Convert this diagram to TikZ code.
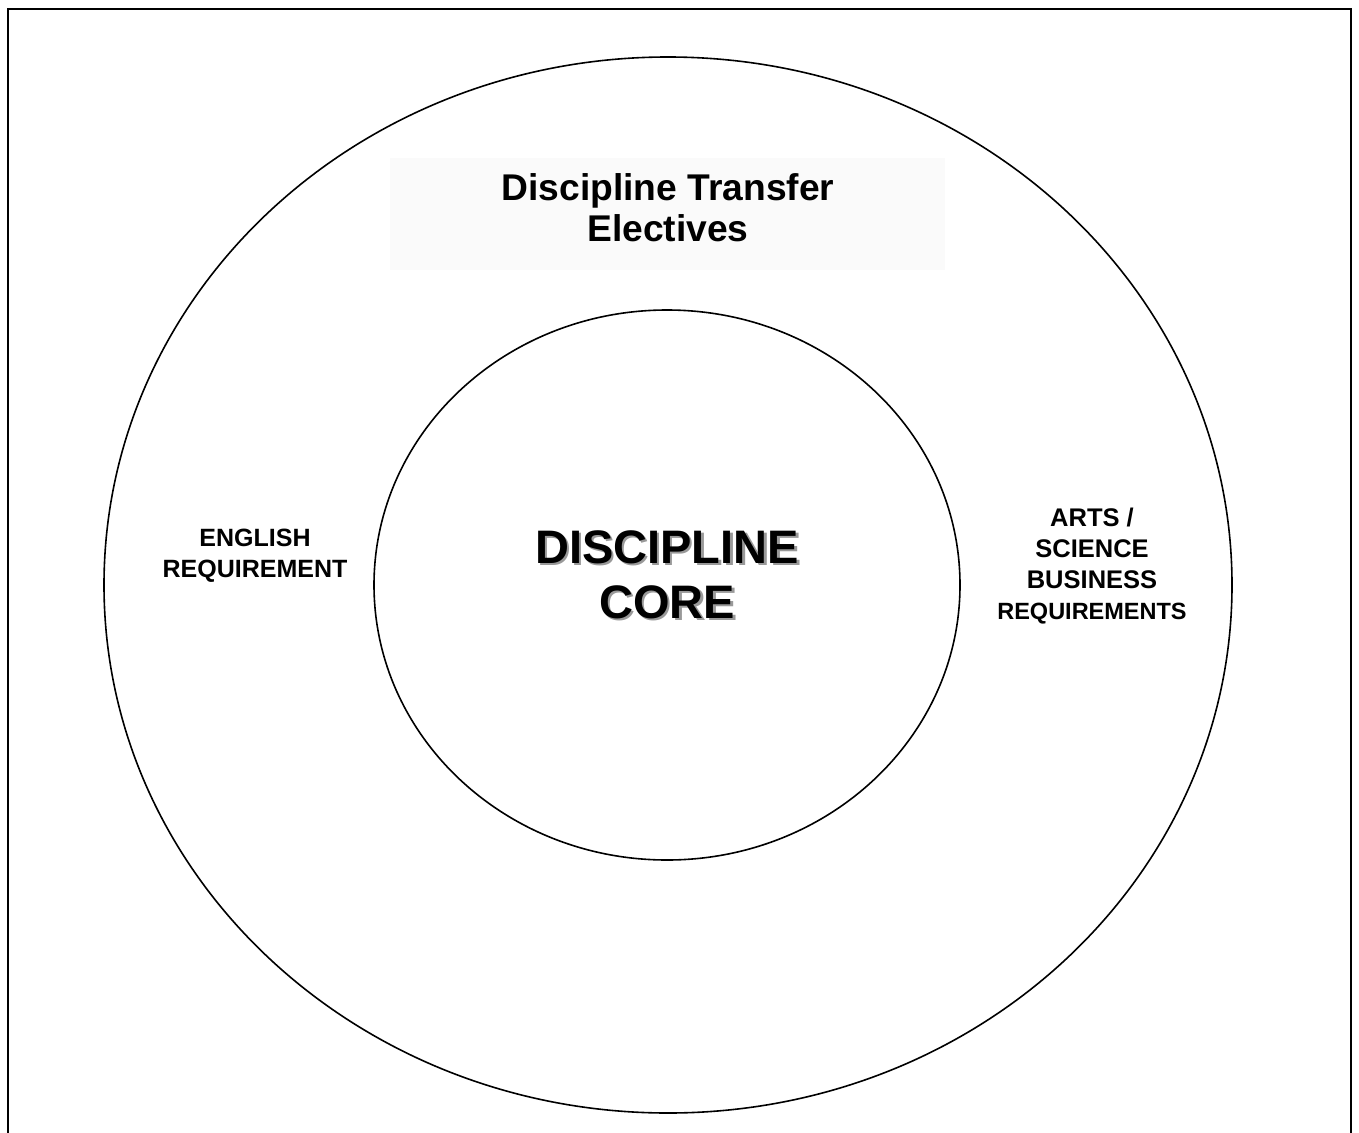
\documentclass[tikz,border=0pt]{standalone}
\usepackage{fontspec}
\setmainfont{Liberation Sans}
% text with a grey drop shadow, set as one box
\newcommand\dropshadowed[1]{\leavevmode\rlap{\kern2.5pt\raisebox{-2.5pt}{\textcolor{black!40}{#1}}}#1}
\begin{document}
\begin{tikzpicture}[x=1pt,y=-1pt,
  ring/.style={draw=black,line width=1.6pt},
  lbl/.style={align=center,inner sep=0pt,font=\bfseries},
  corelbl/.style={lbl,font=\bfseries\fontsize{47}{55}\selectfont}]
\useasboundingbox (0,0) rectangle (1359,1132);
% open frame (no bottom edge)
\draw[line width=2.4pt] (8,1140) -- (8,9) -- (1351,9) -- (1351,1140);
% rings
\draw[ring] (668,585) ellipse [x radius=564, y radius=528];
\draw[ring] (667,585) ellipse [x radius=293, y radius=275];
% faint panel behind the title
\fill[black!2] (390,158) rectangle (945,270);
\node[lbl,font=\bfseries\fontsize{37.2}{41}\selectfont] (title) at (668,208)
  {Discipline Transfer\\Electives};
% core label with drop shadow
\node[corelbl] (core) at (667,576) {\dropshadowed{DISCIPLINE}\\\dropshadowed{CORE}};
\node[lbl,font=\bfseries\fontsize{25}{31}\selectfont] (english) at (255,556)
  {ENGLISH\\REQUIREMENT};
\node[lbl,font=\bfseries\fontsize{25.5}{31}\selectfont] (arts) at (1092,566)
  {ARTS /\\SCIENCE\\BUSINESS\\{\fontsize{23.5}{28}\selectfont REQUIREMENTS}};
\end{tikzpicture}
\end{document}
